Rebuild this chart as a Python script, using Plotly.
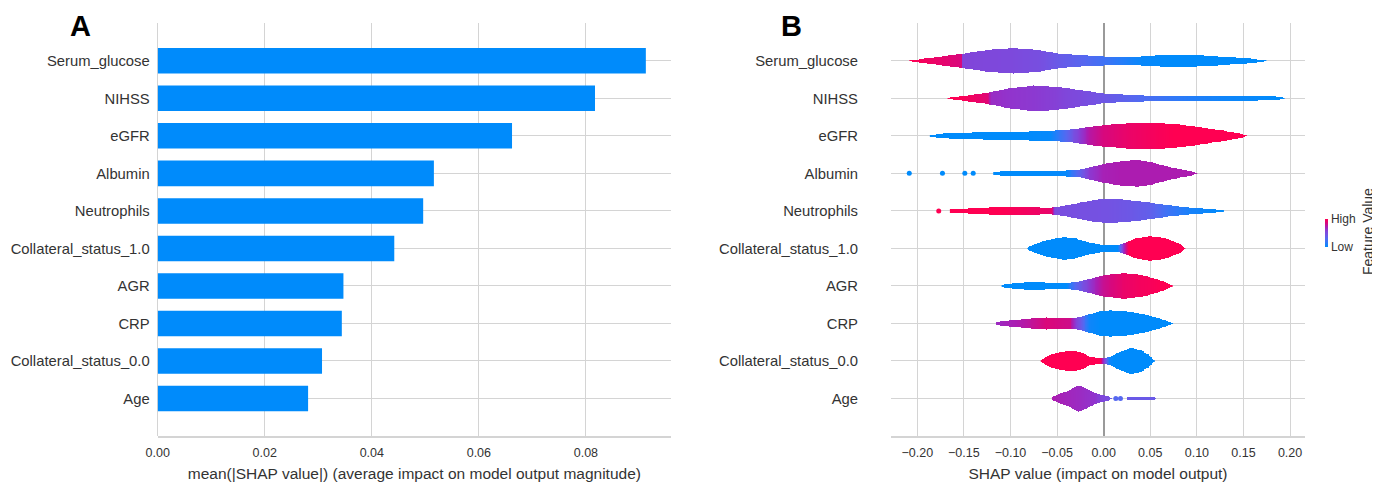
import numpy as np
import plotly.graph_objects as go

# ---------------- data ----------------
FEATURES = ["Serum_glucose", "NIHSS", "eGFR", "Albumin", "Neutrophils",
            "Collateral_status_1.0", "AGR", "CRP", "Collateral_status_0.0", "Age"]
MEAN_ABS_SHAP = [0.0912, 0.0817, 0.0662, 0.0516, 0.0496, 0.0442, 0.0347, 0.0344, 0.0307, 0.0281]

A_TICKS = [0.0, 0.02, 0.04, 0.06, 0.08]
A_TICK_LABELS = ["0.00", "0.02", "0.04", "0.06", "0.08"]
B_TICKS = [-0.20, -0.15, -0.10, -0.05, 0.0, 0.05, 0.10, 0.15, 0.20]
B_TICK_LABELS = ["\u22120.20", "\u22120.15", "\u22120.10", "\u22120.05", "0.00", "0.05", "0.10", "0.15", "0.20"]

# violin profiles: SHAP value knots, half-width (in row units), feature value colour (0 low .. 1 high)
SG_X = [-0.208, -0.19, -0.152, -0.151, -0.125, -0.097, -0.07, -0.05, -0.025, 0.0, 0.02, 0.04, 0.068, 0.10, 0.13, 0.155, 0.174]
SG_W = [0.013, 0.067, 0.19, 0.19, 0.29, 0.34, 0.29, 0.20, 0.15, 0.12, 0.11, 0.12, 0.16, 0.15, 0.11, 0.067, 0.013]
SG_C = [1.0, 0.95, 0.85, 0.56, 0.54, 0.52, 0.48, 0.40, 0.32, 0.22, 0.12, 0.03, 0.0, 0.0, 0.0, 0.0, 0.0]

NI_X = [-0.167, -0.15, -0.125, -0.12, -0.10, -0.075, -0.05, -0.028, 0.0, 0.02, 0.043, 0.07, 0.093, 0.13, 0.165, 0.185, 0.194]
NI_W = [0.013, 0.067, 0.147, 0.17, 0.27, 0.34, 0.31, 0.23, 0.13, 0.10, 0.08, 0.075, 0.075, 0.07, 0.06, 0.05, 0.013]
NI_C = [1.0, 0.98, 0.88, 0.65, 0.62, 0.60, 0.57, 0.52, 0.42, 0.35, 0.27, 0.18, 0.12, 0.05, 0.02, 0.0, 0.0]

EG_X = [-0.186, -0.17, -0.121, -0.09, -0.057, -0.04, -0.028, -0.015, 0.0, 0.025, 0.05, 0.075, 0.093, 0.115, 0.13, 0.145, 0.153]
EG_W = [0.02, 0.067, 0.107, 0.115, 0.133, 0.16, 0.195, 0.24, 0.285, 0.333, 0.347, 0.32, 0.267, 0.187, 0.133, 0.067, 0.013]
EG_C = [0.0, 0.0, 0.0, 0.0, 0.02, 0.30, 0.55, 0.75, 0.85, 0.92, 0.96, 1.0, 1.0, 1.0, 1.0, 1.0, 1.0]

AL_X = [-0.118, -0.10, -0.07, -0.04, -0.028, -0.015, 0.0, 0.018, 0.036, 0.05, 0.065, 0.08, 0.092, 0.10]
AL_W = [0.04, 0.067, 0.072, 0.08, 0.088, 0.16, 0.25, 0.32, 0.355, 0.307, 0.205, 0.12, 0.067, 0.013]
AL_C = [0.0, 0.0, 0.0, 0.02, 0.30, 0.60, 0.70, 0.72, 0.72, 0.72, 0.72, 0.72, 0.72, 0.72]
AL_DOTS_X = [-0.2086, -0.173, -0.149, -0.14]
AL_DOTS_C = [0.0, 0.0, 0.0, 0.0]

NE_X = [-0.1645, -0.15, -0.111, -0.08, -0.06, -0.055, -0.052, -0.04, -0.028, -0.012, 0.004, 0.025, 0.05, 0.07, 0.093, 0.115, 0.129]
NE_W = [0.04, 0.067, 0.10, 0.093, 0.088, 0.09, 0.10, 0.147, 0.205, 0.28, 0.33, 0.293, 0.22, 0.147, 0.088, 0.06, 0.013]
NE_C = [1.0, 1.0, 1.0, 0.95, 0.92, 0.90, 0.50, 0.48, 0.47, 0.46, 0.45, 0.42, 0.36, 0.20, 0.08, 0.03, 0.0]
NE_DOTS_X = [-0.177]
NE_DOTS_C = [1.0]

C1_X = [-0.0814, -0.075, -0.06, -0.043, -0.03, -0.015, 0.004, 0.016, 0.021, 0.027, 0.035, 0.05, 0.065, 0.075, 0.083, 0.088]
C1_W = [0.027, 0.107, 0.227, 0.30, 0.267, 0.152, 0.08, 0.10, 0.13, 0.19, 0.267, 0.328, 0.28, 0.195, 0.107, 0.013]
C1_C = [0.0, 0.0, 0.0, 0.0, 0.0, 0.0, 0.0, 0.0, 0.6, 1.0, 1.0, 1.0, 1.0, 1.0, 1.0, 1.0]

AG_X = [-0.109, -0.10, -0.079, -0.055, -0.04, -0.03, -0.015, 0.0, 0.022, 0.04, 0.05, 0.065, 0.074]
AG_W = [0.027, 0.067, 0.10, 0.085, 0.075, 0.10, 0.187, 0.28, 0.34, 0.293, 0.232, 0.12, 0.013]
AG_C = [0.0, 0.0, 0.0, 0.0, 0.0, 0.30, 0.60, 0.80, 0.92, 0.96, 0.97, 1.0, 1.0]

CR_X = [-0.115, -0.10, -0.086, -0.061, -0.036, -0.03, -0.022, -0.015, -0.004, 0.007, 0.025, 0.043, 0.06, 0.074]
CR_W = [0.04, 0.085, 0.115, 0.16, 0.133, 0.15, 0.20, 0.248, 0.32, 0.355, 0.32, 0.248, 0.133, 0.013]
CR_C = [0.66, 0.70, 0.74, 0.86, 0.82, 0.60, 0.30, 0.05, 0.0, 0.0, 0.0, 0.0, 0.0, 0.0]

C0_X = [-0.067, -0.06, -0.05, -0.035, -0.025, -0.015, -0.005, 0.0, 0.006, 0.01, 0.015, 0.029, 0.04, 0.048, 0.054]
C0_W = [0.027, 0.133, 0.227, 0.267, 0.24, 0.115, 0.072, 0.072, 0.107, 0.15, 0.213, 0.355, 0.28, 0.173, 0.013]
C0_C = [1.0, 1.0, 1.0, 1.0, 1.0, 1.0, 1.0, 0.65, 0.05, 0.0, 0.0, 0.0, 0.0, 0.0, 0.0]

AGE_X = [-0.055, -0.048, -0.039, -0.027, -0.018, -0.01, 0.004, 0.0093, 0.0095, 0.0254, 0.0256, 0.055, 0.0565]
AGE_W = [0.04, 0.12, 0.195, 0.347, 0.267, 0.152, 0.061, 0.013, 0.0, 0.0, 0.045, 0.045, 0.0]
AGE_C = [0.72, 0.70, 0.68, 0.66, 0.64, 0.62, 0.50, 0.38, 0.38, 0.40, 0.40, 0.40, 0.40]
AGE_DOTS_X = [0.013, 0.018]
AGE_DOTS_C = [0.3, 0.3]

VIOLINS = [
    (SG_X, SG_W, SG_C), (NI_X, NI_W, NI_C), (EG_X, EG_W, EG_C), (AL_X, AL_W, AL_C),
    (NE_X, NE_W, NE_C), (C1_X, C1_W, C1_C), (AG_X, AG_W, AG_C), (CR_X, CR_W, CR_C),
    (C0_X, C0_W, C0_C), (AGE_X, AGE_W, AGE_C),
]
DOTS = {3: (AL_DOTS_X, AL_DOTS_C), 4: (NE_DOTS_X, NE_DOTS_C), 9: (AGE_DOTS_X, AGE_DOTS_C)}

# ---------------- styling ----------------
FONT = "Liberation Sans, Arial, sans-serif"
TXT = "#333333"
GRID = "#d4d4d4"
BAR_COLOR = "#008bfb"
RED_BLUE = [
    [0.0, "rgb(0,139,251)"], [0.15, "rgb(45,122,248)"], [0.3, "rgb(85,104,240)"],
    [0.45, "rgb(116,82,226)"], [0.55, "rgb(128,70,218)"], [0.62, "rgb(145,52,205)"],
    [0.72, "rgb(172,28,176)"], [0.85, "rgb(215,8,125)"], [1.0, "rgb(255,0,82)"],
]

n = len(FEATURES)
ypos = [n - 1 - i for i in range(n)]  # top feature at top

fig = go.Figure()

# Panel A bars
fig.add_trace(go.Bar(
    x=MEAN_ABS_SHAP, y=ypos, orientation="h", width=0.68,
    marker=dict(color=BAR_COLOR, line=dict(width=0)),
    xaxis="x", yaxis="y", showlegend=False,
))

# Panel B violins (coloured density cells)
DY = np.round(np.arange(-0.42, 0.4201, 0.01), 3)
for i, (xk, wk, ck) in enumerate(VIOLINS):
    xk = np.array(xk); wk = np.array(wk); ck = np.array(ck)
    xs = np.round(np.arange(xk[0], xk[-1] + 1e-9, 0.001), 4)
    w = np.interp(xs, xk, wk)
    c = np.interp(xs, xk, ck)
    inside = (np.abs(DY)[:, None] <= w[None, :]) & (w[None, :] > 0.005)
    Z = np.where(inside, np.round(c[None, :], 3), np.nan)
    fig.add_trace(go.Heatmap(
        x=xs, y=ypos[i] + DY, z=Z, coloraxis="coloraxis", zsmooth=False,
        xaxis="x2", yaxis="y2", hoverinfo="skip", showlegend=False,
    ))
    if i in DOTS:
        dx, dc = DOTS[i]
        fig.add_trace(go.Scatter(
            x=dx, y=[ypos[i]] * len(dx), mode="markers",
            marker=dict(size=5, color=dc, coloraxis="coloraxis", line=dict(width=0)),
            xaxis="x2", yaxis="y2", showlegend=False, hoverinfo="skip",
        ))

# page body has an 8px margin: work in figure pixels = reference pixels - 8
W, H = 1372, 478
OFF = 8
def px(x):
    return (x - OFF) / W
def py(y):
    return 1 - (y - OFF) / H

y_dom = [py(436), py(23.3)]

fig.update_layout(
    width=W, height=H, margin=dict(l=0, r=0, t=0, b=0, autoexpand=False),
    paper_bgcolor="white", plot_bgcolor="white",
    font=dict(family=FONT, color=TXT),
    xaxis=dict(domain=[px(157.7), px(671)], range=[0, 0.0959],
               tickvals=A_TICKS, ticktext=A_TICK_LABELS, tickfont=dict(size=12.5, color=TXT),
               showgrid=True, gridcolor=GRID, gridwidth=1, zeroline=True, zerolinecolor=GRID, zerolinewidth=1,
               showline=True, linecolor=GRID, linewidth=1.5, ticks="", ticklabelstandoff=4,
               title=dict(text="mean(|SHAP value|) (average impact on model output magnitude)",
                          font=dict(size=15.5, color=TXT), standoff=9)),
    yaxis=dict(domain=y_dom, range=[-1, n], tickvals=ypos, ticktext=FEATURES,
               tickfont=dict(size=14.8, color=TXT), showgrid=True, gridcolor=GRID, gridwidth=1,
               zeroline=False, showline=False, ticks="", ticklabelstandoff=7),
    xaxis2=dict(domain=[px(891), px(1305)], range=[-0.2282, 0.216], anchor="y2",
                tickvals=B_TICKS, ticktext=B_TICK_LABELS, tickfont=dict(size=12.5, color=TXT),
                showgrid=True, gridcolor=GRID, gridwidth=1, zeroline=True, zerolinecolor="#9a9a9a", zerolinewidth=1.5,
                showline=True, linecolor=GRID, linewidth=1.5, ticks="", ticklabelstandoff=4,
                title=dict(text="SHAP value (impact on model output)", font=dict(size=15.5, color=TXT), standoff=9)),
    yaxis2=dict(domain=y_dom, range=[-1, n], anchor="x2", tickvals=ypos, ticktext=FEATURES,
                tickfont=dict(size=14.8, color=TXT), showgrid=True, gridcolor=GRID, gridwidth=1,
                zeroline=False, showline=False, ticks="", ticklabelstandoff=32),
    coloraxis=dict(
        colorscale=RED_BLUE, cmin=0, cmax=1,
        colorbar=dict(
            thickness=3, len=28, lenmode="pixels", x=px(1325), xanchor="left", xpad=0,
            y=py(233), yanchor="middle", ypad=0, outlinewidth=0,
            tickvals=[0, 1], ticktext=["Low", "High"], ticks="", ticklen=0,
            tickfont=dict(size=12, color=TXT, family=FONT),
        ),
    ),
    annotations=[
        dict(text="<b>A</b>", x=px(80), y=1.0, xref="paper", yref="paper",
             xanchor="center", yanchor="top", showarrow=False, font=dict(size=29, color="black", family=FONT)),
        dict(text="<b>B</b>", x=px(791), y=1.0, xref="paper", yref="paper",
             xanchor="center", yanchor="top", showarrow=False, font=dict(size=29, color="black", family=FONT)),
        dict(text="Feature Value", x=px(1368), y=py(232), xref="paper", yref="paper", textangle=-90,
             xanchor="center", yanchor="middle", showarrow=False, font=dict(size=14, color=TXT, family=FONT)),
    ],
)

fig.write_html("out.html")
